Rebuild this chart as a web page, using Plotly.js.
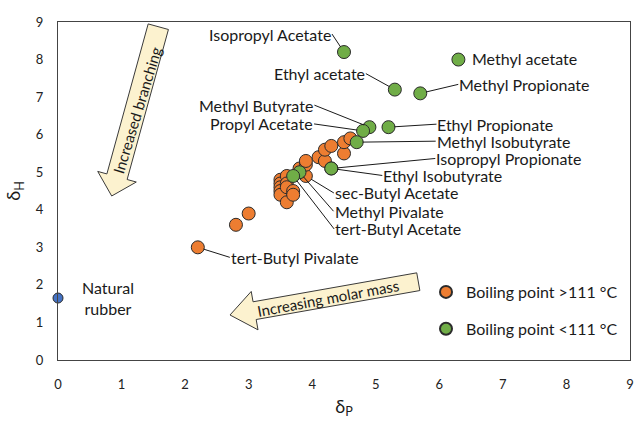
<!DOCTYPE html>
<html><head><meta charset="utf-8">
<script src="https://cdn.plot.ly/plotly-3.0.1.min.js"></script>
<style>html,body{margin:0;padding:0;background:#fff}#chart{width:636px;height:421px}</style>
</head><body><div id="chart"></div>
<script>
// ---- data ----
const orangeNames = ["tert-Butyl Pivalate","","","","","","","","","","","","","","","sec-Butyl Acetate","","","","","","","","",""];
const orangeX = [2.2,2.8,3.0,3.5,3.5,3.5,3.5,3.5,3.6,3.6,3.6,3.6,3.7,3.7,3.8,3.9,3.9,3.9,4.1,4.2,4.2,4.3,4.5,4.5,4.6];
const orangeY = [3.0,3.6,3.9,4.8,4.7,4.6,4.5,4.4,4.9,4.7,4.6,4.2,4.5,4.4,5.1,4.9,5.2,5.3,5.4,5.3,5.6,5.7,5.5,5.8,5.9];
const greenNames = ["Isopropyl Acetate","Methyl acetate","Ethyl acetate","Methyl Propionate","Methyl Butyrate","Propyl Acetate","Ethyl Propionate","Methyl Isobutyrate","Isopropyl Propionate","Ethyl Isobutyrate","Methyl Pivalate","tert-Butyl Acetate"];
const greenX = [4.5,6.3,5.3,5.7,4.9,4.8,5.2,4.7,4.3,4.3,3.8,3.7];
const greenY = [8.2,8.0,7.2,7.1,6.2,6.1,6.2,5.8,5.1,5.1,5.0,4.9];
const rubberName = ["Natural<br>rubber"];
const rubberX = [0];
const rubberY = [1.65];
const legendNames = ["Boiling point >111 °C","Boiling point &lt;111 °C"];
const tickVals = [0,1,2,3,4,5,6,7,8,9];
const arrowTexts = ["Increased branching","Increasing molar mass"];

// ---- label placement (pixel offsets from point) ----
const labelStyle = {
  "Isopropyl Acetate": {ax:-12, ay:-18, anchor:"right"},
  "Methyl acetate": {arrow:false, xshift:12, yshift:1, anchor:"left"},
  "Ethyl acetate": {ax:-29, ay:-16, anchor:"right"},
  "Methyl Propionate": {ax:38, ay:-9, anchor:"left"},
  "Methyl Butyrate": {ax:-55, ay:-22, anchor:"right"},
  "Propyl Acetate": {ax:-49, ay:-7, anchor:"right"},
  "Ethyl Propionate": {ax:48, ay:-3, anchor:"left"},
  "Methyl Isobutyrate": {ax:79, ay:-1, anchor:"left"},
  "Isopropyl Propionate": {ax:104, ay:-10, anchor:"left"},
  "Ethyl Isobutyrate": {ax:51, ay:7, anchor:"left"},
  "Methyl Pivalate": {ax:34, ay:39, anchor:"left"},
  "tert-Butyl Acetate": {ax:41, ay:53, anchor:"left"},
  "sec-Butyl Acetate": {ax:28, ay:17, anchor:"left"},
  "tert-Butyl Pivalate": {ax:32, ay:10, anchor:"left"}
};

const FONT = "Lato, 'Open Sans', sans-serif";
const LSIZE = 16;
const ORANGE = "#ED7D31", GREEN = "#70AD47", BLUE = "#4472C4";
const markerLine = {color:"#2b2b2b", width:1};

const traces = [
  {x:orangeX, y:orangeY, type:"scatter", mode:"markers", name:legendNames[0], legendgroup:"a",
   marker:{size:13, color:ORANGE, line:markerLine}, cliponaxis:false, hoverinfo:"skip"},
  {x:greenX, y:greenY, type:"scatter", mode:"markers", name:legendNames[1], legendgroup:"b",
   marker:{size:13, color:GREEN, line:markerLine}, cliponaxis:false, hoverinfo:"skip"},
  {x:rubberX, y:rubberY, type:"scatter", mode:"markers", name:"Natural rubber", showlegend:false,
   marker:{size:10, color:BLUE, line:markerLine}, cliponaxis:false, hoverinfo:"skip"}
];

const annotations = [];
function addLabel(name, x, y) {
  const s = labelStyle[name];
  if (!s) return;
  if (s.arrow === false) {
    annotations.push({x, y, xref:"x", yref:"y", text:name, showarrow:false, xanchor:s.anchor, yanchor:"middle",
      xshift:s.xshift||0, yshift:s.yshift||0, font:{family:FONT, size:LSIZE, color:"#1a1a1a"}});
  } else {
    annotations.push({x, y, xref:"x", yref:"y", text:name, showarrow:true, arrowhead:0,
      arrowwidth:1, arrowcolor:"#1a1a1a", ax:s.ax, ay:s.ay, xanchor:s.anchor, yanchor:"middle",
      standoff:6, borderpad:0, font:{family:FONT, size:LSIZE, color:"#1a1a1a"}});
  }
}
greenNames.forEach((n,i)=>addLabel(n, greenX[i], greenY[i]));
orangeNames.forEach((n,i)=>{ if(n) addLabel(n, orangeX[i], orangeY[i]); });
annotations.push({x:rubberX[0], y:rubberY[0], xref:"x", yref:"y", text:rubberName[0], showarrow:false,
  xshift:50, xanchor:"center", yanchor:"middle", align:"center", font:{family:FONT, size:LSIZE, color:"#1a1a1a"}});

// ---- block arrows (pixel geometry -> paper) ----
const L = 58, R = 630, T = 22, B = 360;
const toPX = X => (X - L) / (R - L);
const toPY = Y => (B - Y) / (B - T);
function blockArrow(tail, tip, hw, headHw, headLen) {
  const dx = tip[0]-tail[0], dy = tip[1]-tail[1], len = Math.hypot(dx,dy);
  const ux = dx/len, uy = dy/len, nx = -uy, ny = ux;
  const bx = tip[0]-ux*headLen, by = tip[1]-uy*headLen;
  const pts = [
    [tail[0]+nx*hw, tail[1]+ny*hw], [bx+nx*hw, by+ny*hw], [bx+nx*headHw, by+ny*headHw],
    tip, [bx-nx*headHw, by-ny*headHw], [bx-nx*hw, by-ny*hw], [tail[0]-nx*hw, tail[1]-ny*hw]
  ];
  const path = "M " + pts.map(p => toPX(p[0]).toFixed(5) + "," + toPY(p[1]).toFixed(5)).join(" L ") + " Z";
  return {type:"path", xref:"paper", yref:"paper", path, fillcolor:"#FCF2CF",
          line:{color:"#3a3a3a", width:1}, layer:"above"};
}
const shapes = [
  blockArrow([158.3,26.7],[111.7,196],10.5,20,20),
  blockArrow([418.3,281.7],[230,315],9,19.5,25)
];
annotations.push({xref:"paper", yref:"paper", x:toPX(137), y:toPY(110), xanchor:"center", yanchor:"middle",
  text:arrowTexts[0], showarrow:false, textangle:-73, font:{family:FONT, size:15, color:"#1a1a1a"}});
annotations.push({xref:"paper", yref:"paper", x:toPX(328), y:toPY(297.5), xanchor:"center", yanchor:"middle",
  text:arrowTexts[1], showarrow:false, textangle:-10.5, font:{family:FONT, size:15, color:"#1a1a1a"}});

const axisCommon = {
  range:[0,9], tickvals:tickVals, showgrid:false, zeroline:false, showline:true, mirror:true,
  linecolor:"#444", linewidth:1, ticks:"outside", tickcolor:"rgba(0,0,0,0)",
  tickfont:{family:FONT, size:13, color:"#222"}, fixedrange:true
};

const layout = {
  width:636, height:421,
  margin:{l:L, r:636-R, t:T, b:421-B},
  paper_bgcolor:"#fff", plot_bgcolor:"#fff",
  font:{family:FONT, color:"#1a1a1a"},
  xaxis:Object.assign({}, axisCommon, {ticklen:12, title:{text:"δ<sub>P</sub>", font:{family:FONT, size:18}, standoff:9}}),
  yaxis:Object.assign({}, axisCommon, {ticklen:11, title:{text:"δ<sub>H</sub>", font:{family:FONT, size:18}, standoff:10}}),
  showlegend:true,
  legend:{x:toPX(426), y:toPY(275), xanchor:"left", yanchor:"top", traceorder:"grouped", tracegroupgap:13,
    itemsizing:"constant",
    bgcolor:"rgba(0,0,0,0)", font:{family:FONT, size:LSIZE, color:"#1a1a1a"}, itemclick:false, itemdoubleclick:false},
  shapes, annotations, hovermode:false
};
Plotly.newPlot("chart", traces, layout, {displayModeBar:false, staticPlot:true});
</script></body></html>
